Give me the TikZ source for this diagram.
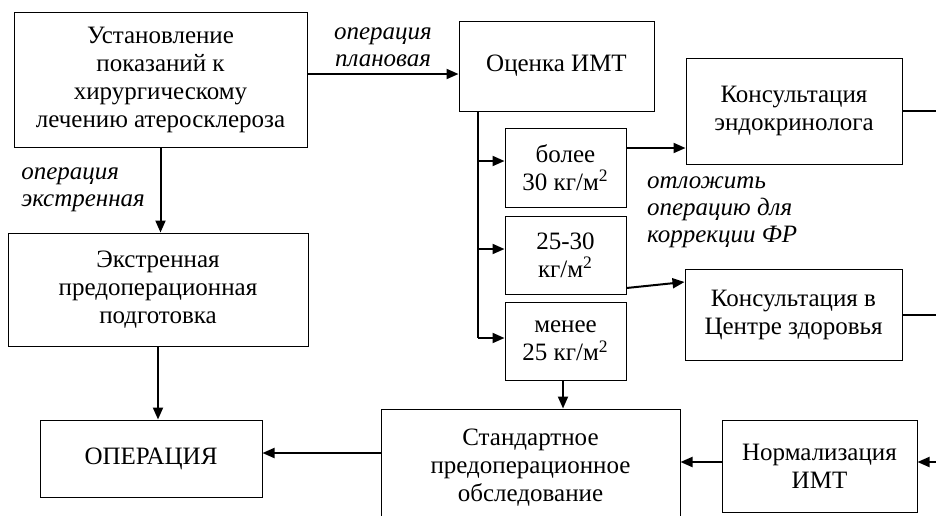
\documentclass[tikz,border=0pt]{standalone}
\usepackage{fontspec}
\setmainfont{Liberation Serif}
\usetikzlibrary{arrows.meta,positioning}

\begin{document}
\begin{tikzpicture}[x=0.5pt, y=-0.5pt,
    font=\fontsize{12.5}{14}\selectfont,
    block/.style={rectangle, draw, line width=0.5pt, align=center, inner sep=2pt},
    arrow/.style={-{Triangle[length=6pt,width=5pt]}, line width=1pt},
    wire/.style={line width=1pt},
    note/.style={font=\fontsize{12.5}{13.5}\selectfont\itshape, align=left}]

    \clip (0,0) rectangle (936,515);

    \node[block, minimum width=146.5pt, minimum height=67.5pt] (ind) at (160.5,79.5)
        {Установление\\показаний к\\хирургическому\\лечению атеросклероза};
    \node[block, minimum width=97.5pt, minimum height=45pt] (imt) at (556.5,66) {Оценка ИМТ};
    \node[block, minimum width=150pt, minimum height=56.5pt] (emerg) at (158,289.5)
        {Экстренная\\предоперационная\\подготовка};
    \node[block, minimum width=111pt, minimum height=38.5pt] (op) at (151,458.5) {ОПЕРАЦИЯ};
    \node[block, minimum width=149.5pt, minimum height=59pt] (std) at (530.5,468)
        {Стандартное\\предоперационное\\обследование};
    \node[block, minimum width=97.5pt, minimum height=46pt] (norm) at (819.5,466) {Нормализация\\ИМТ};
    \node[block, minimum width=108pt, minimum height=53pt] (endo) at (794,111)
        {Консультация\\эндокринолога};
    \node[block, minimum width=108.5pt, minimum height=45.5pt] (cz) at (793.5,314.5)
        {Консультация в\\Центре здоровья};
    \node[block, minimum width=60.5pt, minimum height=39.5pt] (r1) at (565.5,167.5)
        {более\\30 кг/м\textsuperscript{2}};
    \node[block, minimum width=60.5pt, minimum height=39pt] (r2) at (565.5,255)
        {25-30\\кг/м\textsuperscript{2}};
    \node[block, minimum width=60.5pt, minimum height=39pt] (r3) at (565.5,341)
        {менее\\25 кг/м\textsuperscript{2}};
    \node[note, anchor=west] (delay) at (640,212)
        {отложить\\операцию для\\коррекции ФР};

    \coordinate (trunk) at (478,338);
    \coordinate (edge) at (936,0);

    \draw[arrow] ([yshift=-4pt]imt.west -| ind.east) -- node[midway, above, note, align=center] (lplan) {операция\\плановая} ([yshift=-4pt]imt.west);
    \draw[arrow] (ind.south) -- node[midway, left, note, xshift=-4pt] (lemerg) {операция\\экстренная} (emerg.north -| ind.south);
    \draw[arrow] (emerg.south) -- (op.north -| emerg.south);
    \draw[arrow] ([yshift=2.75pt]op.east -| std.west) -- ([yshift=2.75pt]op.east);
    \draw[arrow] ([yshift=2pt]norm.west) -- ([yshift=2pt]norm.west -| std.east);
    \draw[arrow] ([yshift=2pt]norm.east -| edge) -- ([yshift=2pt]norm.east);
    \draw[wire] (imt.south -| trunk) -- (trunk);
    \draw[arrow] (trunk |- 0,161) -- (r1.west |- 0,161);
    \draw[arrow] (trunk |- 0,249) -- (r2.west |- 0,249);
    \draw[arrow] (trunk) -- (trunk -| r3.west);
    \draw[arrow] (r3.south -| 563,0) -- (std.north -| 563,0);
    \draw[arrow] ([yshift=9.75pt]r1.east) -- ([yshift=9.75pt]r1.east -| endo.west);
    \draw[arrow] ([yshift=-16.5pt]r2.east) -- ([yshift=16.25pt]cz.west);
    \draw[wire] (endo.east) -- (endo.east -| edge);
    \draw[wire] (cz.east) -- (cz.east -| edge);
\end{tikzpicture}
\end{document}
